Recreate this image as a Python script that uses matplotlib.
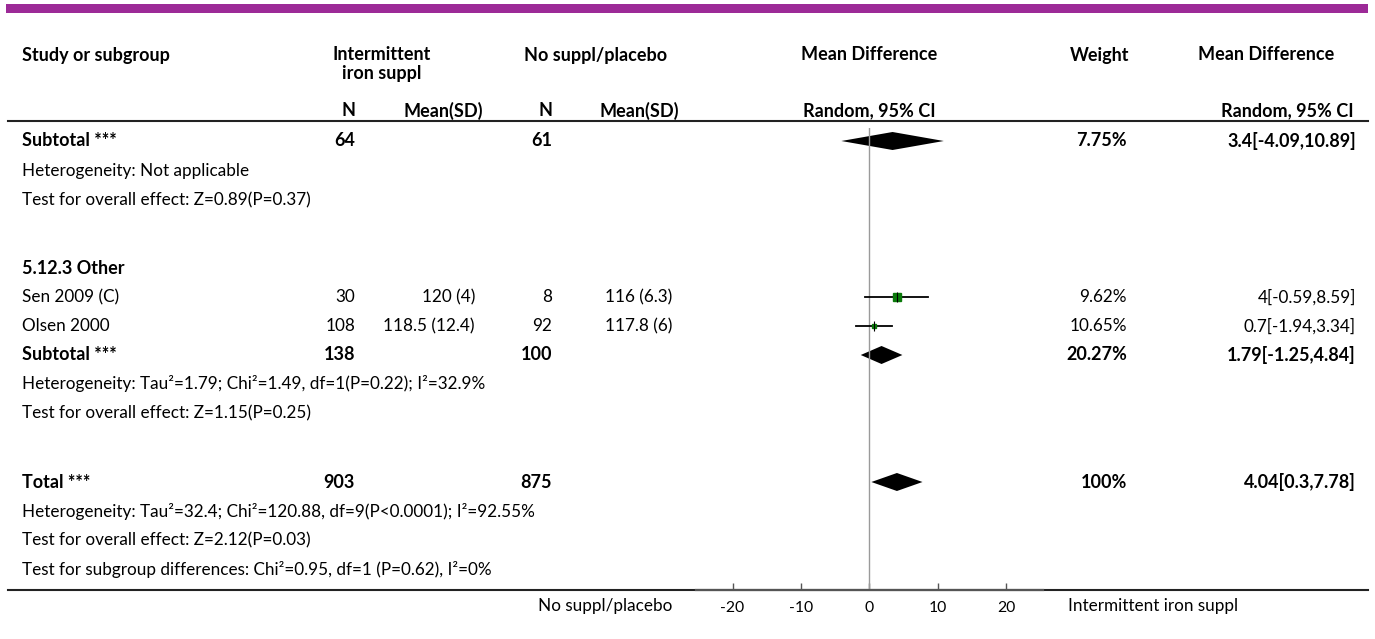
import matplotlib.pyplot as plt

plt.rcParams['font.family'] = ['Lato', 'DejaVu Sans']

# ---- data ----
study_names = ["Sen 2009 (C)", "Olsen 2000"]
study_n1 = ["30", "108"]
study_mean1 = ["120 (4)", "118.5 (12.4)"]
study_n2 = ["8", "92"]
study_mean2 = ["116 (6.3)", "117.8 (6)"]
study_weight = ["9.62%", "10.65%"]
study_ci_text = ["4[-0.59,8.59]", "0.7[-1.94,3.34]"]
study_est = [4.0, 0.7]
study_lo = [-0.59, -1.94]
study_hi = [8.59, 3.34]
study_box = [5.8, 2.9]   # marker size (pt)

pooled_names = ["Subtotal ***", "Subtotal ***", "Total ***"]
pooled_n1 = ["64", "138", "903"]
pooled_n2 = ["61", "100", "875"]
pooled_weight = ["7.75%", "20.27%", "100%"]
pooled_ci_text = ["3.4[-4.09,10.89]", "1.79[-1.25,4.84]", "4.04[0.3,7.78]"]
pooled_est = [3.4, 1.79, 4.04]
pooled_lo = [-4.09, -1.25, 0.3]
pooled_hi = [10.89, 4.84, 7.78]

notes = [
    "Heterogeneity: Not applicable",
    "Test for overall effect: Z=0.89(P=0.37)",
    "Heterogeneity: Tau\u00b2=1.79; Chi\u00b2=1.49, df=1(P=0.22); I\u00b2=32.9%",
    "Test for overall effect: Z=1.15(P=0.25)",
    "Heterogeneity: Tau\u00b2=32.4; Chi\u00b2=120.88, df=9(P<0.0001); I\u00b2=92.55%",
    "Test for overall effect: Z=2.12(P=0.03)",
    "Test for subgroup differences: Chi\u00b2=0.95, df=1 (P=0.62), I\u00b2=0%",
]
subgroup_title = "5.12.3 Other"
ticks = [-20, -10, 0, 10, 20]

# ---- layout (pixel rows) ----
W, H = 1375, 639
study_y = [297, 326]
pooled_y = [141, 355, 482]
note_y = [171, 200, 384, 413, 511, 540, 569]
title_y = 268
FS = 12.3
BFS = 13
purple = '#9c2a97'

fig = plt.figure(figsize=(W / 100, H / 100), dpi=100)
ax = fig.add_axes([0, 0, 1, 1])
ax.set_xlim(0, W)
ax.set_ylim(H, 0)
ax.axis('off')

# top bar and rules
ax.fill_between([6, 1368], 4, 13, color=purple, lw=0)
ax.plot([8, 1368], [121, 121], color='#222222', lw=1.5)
ax.plot([8, 1368], [590, 590], color='#222222', lw=1.5)

# column headers
hb = dict(fontsize=BFS, fontweight='bold', va='center')
ax.text(22, 55, "Study or subgroup", ha='left', **hb)
ax.text(382, 55, "Intermittent", ha='center', **hb)
ax.text(382, 74, "iron suppl", ha='center', **hb)
ax.text(596, 55, "No suppl/placebo", ha='center', **hb)
ax.text(869, 55, "Mean Difference", ha='center', **hb)
ax.text(1100, 55, "Weight", ha='center', **hb)
ax.text(1266, 55, "Mean Difference", ha='center', **hb)
ax.text(349, 111, "N", ha='center', **hb)
ax.text(443, 111, "Mean(SD)", ha='center', **hb)
ax.text(546, 111, "N", ha='center', **hb)
ax.text(639, 111, "Mean(SD)", ha='center', **hb)
ax.text(869, 111, "Random, 95% CI", ha='center', **hb)
ax.text(1354, 111, "Random, 95% CI", ha='right', **hb)

# table body
nb = dict(fontsize=FS, va='center')
bb = dict(fontsize=BFS, va='center', fontweight='bold')
ax.text(22, title_y, subgroup_title, ha='left', **bb)
for i, y in enumerate(study_y):
    ax.text(22, y, study_names[i], ha='left', **nb)
    ax.text(355, y, study_n1[i], ha='right', **nb)
    ax.text(475, y, study_mean1[i], ha='right', **nb)
    ax.text(552, y, study_n2[i], ha='right', **nb)
    ax.text(672, y, study_mean2[i], ha='right', **nb)
    ax.text(1127, y, study_weight[i], ha='right', **nb)
    ax.text(1356, y, study_ci_text[i], ha='right', **nb)
for i, y in enumerate(pooled_y):
    ax.text(22, y, pooled_names[i], ha='left', **bb)
    ax.text(355, y, pooled_n1[i], ha='right', **bb)
    ax.text(552, y, pooled_n2[i], ha='right', **bb)
    ax.text(1127, y, pooled_weight[i], ha='right', **bb)
    ax.text(1356, y, pooled_ci_text[i], ha='right', **bb)
for txt, y in zip(notes, note_y):
    ax.text(22, y, txt, ha='left', **nb)

ax.text(672, 606, "No suppl/placebo", ha='right', **nb)
ax.text(1068, 606, "Intermittent iron suppl", ha='left', **nb)

# ---- forest panel ----
x0, x1, ytop, ybot = 695.6, 1043, 128, 590
fax = fig.add_axes([x0 / W, (H - ybot) / H, (x1 - x0) / W, (ybot - ytop) / H])
fax.set_xlim(-25.4, 25.4)
fax.set_ylim(ybot, ytop)
fax.patch.set_alpha(0)
for s in ['top', 'left', 'right']:
    fax.spines[s].set_visible(False)
fax.spines['bottom'].set_color('#555555')
fax.spines['bottom'].set_linewidth(1.6)
fax.set_yticks([])
fax.set_xticks(ticks)
fax.set_xticklabels([str(t) for t in ticks], fontsize=FS - 1)
fax.tick_params(axis='x', direction='in', length=5, width=1, color='#555555', pad=8)

fax.axvline(0, color='#9a9a9a', lw=1)

for i, y in enumerate(study_y):
    fax.plot([study_lo[i], study_hi[i]], [y, y], color='black', lw=1.3)
    fax.plot(study_est[i], y, marker='s', ms=study_box[i], color='#0a7a0a', mec='#0a7a0a')
    fax.plot(study_est[i], y, marker='|', ms=7, color='black', mew=0.8)

for i, y in enumerate(pooled_y):
    h = 9
    fax.fill([pooled_lo[i], pooled_est[i], pooled_hi[i], pooled_est[i]],
             [y, y - h, y, y + h], color='black', lw=0)

fig.savefig('out.png', dpi=100)
